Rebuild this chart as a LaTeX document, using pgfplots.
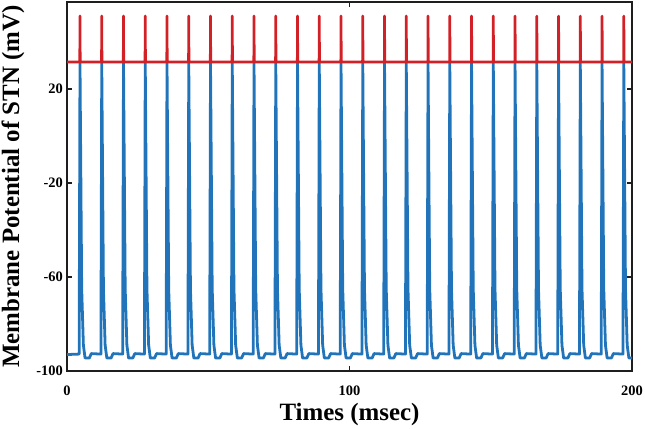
\documentclass[border=0pt]{standalone}
\usepackage{pgfplots}
\pgfplotsset{compat=1.18}
\usepackage{fontspec}
\setmainfont{Liberation Serif}
\definecolor{stnblue}{RGB}{34,116,186}
\definecolor{stnred}{RGB}{210,32,39}
\definecolor{axgray}{RGB}{30,30,30}
\begin{document}
\begin{tikzpicture}
\begin{axis}[
  at={(67bp,58bp)}, anchor=south west,
  scale only axis, width=565bp, height=369bp,
  xmin=0, xmax=200, ymin=-100, ymax=57,
  xtick={0,100,200}, ytick={-100,-60,-20,20},
  tick align=inside, major tick length=5bp,
  axis line style={axgray, line width=1.8pt},
  every tick/.style={axgray, line width=1.2pt},
  /pgf/number format/assume math mode=true,
  ticklabel style={font=\fontsize{14.5}{16}\selectfont\bfseries, inner sep=0pt},
  xticklabel style={anchor=base, yshift=-24bp},
  yticklabel style={anchor=east, xshift=-4bp},
  xlabel={Times (msec)},
  ylabel={Membrane Potential of STN (mV)},
  label style={font=\fontsize{25}{28}\selectfont\bfseries},
  xlabel style={at={(axis description cs:0.5,-0.1328)}, anchor=base},
  ylabel style={at={(axis description cs:-0.0956,0.5)}, anchor=center},
  clip=true,
]
\addplot[stnblue, line width=2.8pt, line join=round] coordinates {
(0,-93.0)
(4.3,-92.8) (4.6,31) (5.2,-65) (5.8,-89) (6.4,-94.5) (7.9,-94.5) (8.6,-92.6)
(12.0,-92.8) (12.3,31) (12.9,-65) (13.5,-89) (14.1,-94.5) (15.6,-94.5) (16.3,-92.6)
(19.7,-92.8) (20.0,31) (20.6,-65) (21.2,-89) (21.8,-94.5) (23.3,-94.5) (24.0,-92.6)
(27.4,-92.8) (27.7,31) (28.3,-65) (28.9,-89) (29.5,-94.5) (31.0,-94.5) (31.7,-92.6)
(35.1,-92.8) (35.4,31) (36.0,-65) (36.6,-89) (37.2,-94.5) (38.7,-94.5) (39.4,-92.6)
(42.8,-92.8) (43.1,31) (43.7,-65) (44.3,-89) (44.9,-94.5) (46.4,-94.5) (47.1,-92.6)
(50.5,-92.8) (50.8,31) (51.4,-65) (52.0,-89) (52.6,-94.5) (54.1,-94.5) (54.8,-92.6)
(58.2,-92.8) (58.5,31) (59.1,-65) (59.7,-89) (60.3,-94.5) (61.8,-94.5) (62.5,-92.6)
(65.9,-92.8) (66.2,31) (66.8,-65) (67.4,-89) (68.0,-94.5) (69.5,-94.5) (70.2,-92.6)
(73.6,-92.8) (73.9,31) (74.5,-65) (75.1,-89) (75.7,-94.5) (77.2,-94.5) (77.9,-92.6)
(81.3,-92.8) (81.6,31) (82.2,-65) (82.8,-89) (83.4,-94.5) (84.9,-94.5) (85.6,-92.6)
(89.0,-92.8) (89.3,31) (89.9,-65) (90.5,-89) (91.1,-94.5) (92.6,-94.5) (93.3,-92.6)
(96.7,-92.8) (97.0,31) (97.6,-65) (98.2,-89) (98.8,-94.5) (100.3,-94.5) (101.0,-92.6)
(104.4,-92.8) (104.7,31) (105.3,-65) (105.9,-89) (106.5,-94.5) (108.0,-94.5) (108.7,-92.6)
(112.1,-92.8) (112.4,31) (113.0,-65) (113.6,-89) (114.2,-94.5) (115.7,-94.5) (116.4,-92.6)
(119.8,-92.8) (120.1,31) (120.7,-65) (121.3,-89) (121.9,-94.5) (123.4,-94.5) (124.1,-92.6)
(127.5,-92.8) (127.8,31) (128.4,-65) (129.0,-89) (129.6,-94.5) (131.1,-94.5) (131.8,-92.6)
(135.2,-92.8) (135.5,31) (136.1,-65) (136.7,-89) (137.3,-94.5) (138.8,-94.5) (139.5,-92.6)
(142.9,-92.8) (143.2,31) (143.8,-65) (144.4,-89) (145.0,-94.5) (146.5,-94.5) (147.2,-92.6)
(150.6,-92.8) (150.9,31) (151.5,-65) (152.1,-89) (152.7,-94.5) (154.2,-94.5) (154.9,-92.6)
(158.3,-92.8) (158.6,31) (159.2,-65) (159.8,-89) (160.4,-94.5) (161.9,-94.5) (162.6,-92.6)
(166.0,-92.8) (166.3,31) (166.9,-65) (167.5,-89) (168.1,-94.5) (169.6,-94.5) (170.3,-92.6)
(173.7,-92.8) (174.0,31) (174.6,-65) (175.2,-89) (175.8,-94.5) (177.3,-94.5) (178.0,-92.6)
(181.4,-92.8) (181.7,31) (182.3,-65) (182.9,-89) (183.5,-94.5) (185.0,-94.5) (185.7,-92.6)
(189.1,-92.8) (189.4,31) (190.0,-65) (190.6,-89) (191.2,-94.5) (192.7,-94.5) (193.4,-92.6)
(196.8,-92.8) (197.1,31) (197.7,-65) (198.3,-89) (198.9,-94.5) (200,-94.5)
};
\addplot[stnred, line width=2.8pt, line join=round] coordinates {
(0,31.5)
(4.55,31.5) (4.6,51) (4.65,31.5)
(12.25,31.5) (12.3,51) (12.35,31.5)
(19.95,31.5) (20.0,51) (20.05,31.5)
(27.65,31.5) (27.7,51) (27.75,31.5)
(35.35,31.5) (35.4,51) (35.45,31.5)
(43.05,31.5) (43.1,51) (43.15,31.5)
(50.75,31.5) (50.8,51) (50.85,31.5)
(58.45,31.5) (58.5,51) (58.55,31.5)
(66.15,31.5) (66.2,51) (66.25,31.5)
(73.85,31.5) (73.9,51) (73.95,31.5)
(81.55,31.5) (81.6,51) (81.65,31.5)
(89.25,31.5) (89.3,51) (89.35,31.5)
(96.95,31.5) (97.0,51) (97.05,31.5)
(104.65,31.5) (104.7,51) (104.75,31.5)
(112.35,31.5) (112.4,51) (112.45,31.5)
(120.05,31.5) (120.1,51) (120.15,31.5)
(127.75,31.5) (127.8,51) (127.85,31.5)
(135.45,31.5) (135.5,51) (135.55,31.5)
(143.15,31.5) (143.2,51) (143.25,31.5)
(150.85,31.5) (150.9,51) (150.95,31.5)
(158.55,31.5) (158.6,51) (158.65,31.5)
(166.25,31.5) (166.3,51) (166.35,31.5)
(173.95,31.5) (174.0,51) (174.05,31.5)
(181.65,31.5) (181.7,51) (181.75,31.5)
(189.35,31.5) (189.4,51) (189.45,31.5)
(197.05,31.5) (197.1,51) (197.15,31.5)
(200,31.5)
};
\end{axis}
\pgfresetboundingbox
\useasboundingbox (0,0) rectangle (645bp,429bp);
\end{tikzpicture}
\end{document}
